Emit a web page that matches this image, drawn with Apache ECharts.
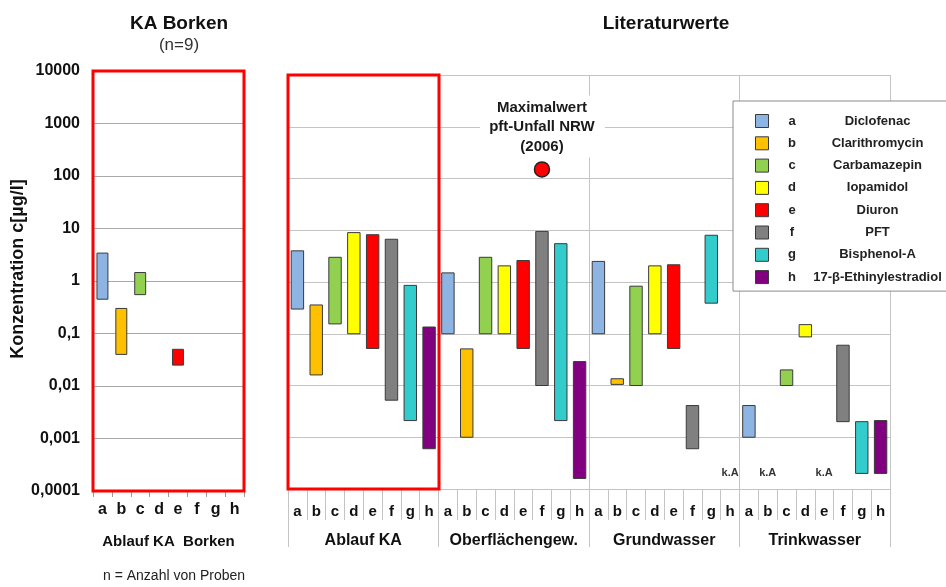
<!DOCTYPE html>
<html>
<head>
<meta charset="utf-8">
<script src="https://cdn.jsdelivr.net/npm/echarts@6/dist/echarts.min.js"></script>
<style>
  html, body { margin: 0; padding: 0; background: #ffffff; }
  #chart { width: 946px; height: 587px; }
</style>
</head>
<body>
<div id="chart"></div>
<script>
// Substances (letter codes a–h) and their colours
const letters = ['a', 'b', 'c', 'd', 'e', 'f', 'g', 'h'];
const substances = ['Diclofenac', 'Clarithromycin', 'Carbamazepin', 'Iopamidol',
  'Diuron', 'PFT', 'Bisphenol-A', '17-β-Ethinylestradiol'];
const colors = ['#8DB4E2', '#FFC000', '#92D050', '#FFFF00',
  '#FF0000', '#808080', '#33CCCC', '#800080'];

// Water compartments of the literature panel
const sections = ['Ablauf KA', 'Oberflächengew.', 'Grundwasser', 'Trinkwasser'];

// KA Borken effluent, concentration range in µg/l (null = not measured)
const borkenLow  = [0.45, 0.04, 0.55, null, 0.025, null, null, null];
const borkenHigh = [3.4, 0.3, 1.45, null, 0.05, null, null, null];

// Literature ranges in µg/l per compartment (null = k.A.)
const ablaufLow   = [0.3, 0.016, 0.155, 0.1, 0.052, 0.0052, 0.0021, 0.0006];
const ablaufHigh  = [4.0, 0.36, 3.0, 9.0, 8.2, 6.7, 0.86, 0.135];
const oberflLow   = [0.1, 0.001, 0.1, 0.1, 0.052, 0.01, 0.0021, 0.00016];
const oberflHigh  = [1.5, 0.051, 3.0, 2.05, 2.6, 9.5, 5.5, 0.029];
const grundLow    = [0.1, 0.0105, 0.01, 0.1, 0.052, 0.0006, 0.39, null];
const grundHigh   = [2.5, 0.0135, 0.83, 2.05, 2.15, 0.0041, 8.0, null];
const trinkLow    = [0.001, null, 0.01, 0.087, null, 0.002, 0.0002, 0.0002];
const trinkHigh   = [0.0041, null, 0.02, 0.15, null, 0.06, 0.002, 0.0021];

const litLow  = [ablaufLow, oberflLow, grundLow, trinkLow];
const litHigh = [ablaufHigh, oberflHigh, grundHigh, trinkHigh];

// Maximum PFT value after the 2006 incident in NRW (surface water, f)
const pftMaxValue = 150;
const pftMaxText = ['Maximalwert', 'pft-Unfall NRW', '(2006)'];

const FONT = '"Liberation Sans", Arial, sans-serif';

function rangeBar(widthRatio) {
  return function (params, api) {
    const x = api.value(0);
    const lo = api.coord([x, api.value(1)]);
    const hi = api.coord([x, api.value(2)]);
    const w = api.size([1, 0])[0] * widthRatio;
    return {
      type: 'rect',
      shape: { x: lo[0] - w / 2, y: hi[1], width: w, height: lo[1] - hi[1] },
      style: { fill: api.visual('color'), stroke: '#3a3a3a', lineWidth: 1 }
    };
  };
}

const series = [];
substances.forEach((name, i) => {
  series.push({
    type: 'custom', name, xAxisIndex: 0, yAxisIndex: 0,
    itemStyle: { color: colors[i] },
    renderItem: rangeBar(0.58),
    encode: { x: 0, y: [1, 2] },
    data: borkenLow[i] != null ? [[i, borkenLow[i], borkenHigh[i]]] : []
  });
  const d = [];
  sections.forEach((s, k) => {
    if (litLow[k][i] != null) d.push([k * letters.length + i, litLow[k][i], litHigh[k][i]]);
  });
  series.push({
    type: 'custom', name, xAxisIndex: 1, yAxisIndex: 1,
    itemStyle: { color: colors[i] },
    renderItem: rangeBar(0.66),
    encode: { x: 0, y: [1, 2] },
    data: d
  });
});

// "k.A" markers where the literature gives no value
const noData = [];
sections.forEach((s, k) => letters.forEach((l, i) => {
  if (litLow[k][i] == null) noData.push([k * letters.length + i, 0.0001]);
}));
series.push({
  type: 'custom', xAxisIndex: 1, yAxisIndex: 1, silent: true,
  renderItem: function (params, api) {
    const p = api.coord([api.value(0), api.value(1)]);
    return {
      type: 'text',
      style: { x: p[0], y: p[1] - 16, text: 'k.A', align: 'center', verticalAlign: 'middle',
        fontSize: 11, fontWeight: 'bold', fontFamily: FONT, fill: '#333' }
    };
  },
  data: noData
});

// PFT maximum: red dot with its caption on a white panel
series.push({
  type: 'custom', xAxisIndex: 1, yAxisIndex: 1, silent: true, z: 5,
  renderItem: function (params, api) {
    const p = api.coord([api.value(0), api.value(1)]);
    const children = [
      { type: 'rect', shape: { x: p[0] - 62, y: p[1] - 74, width: 125, height: 62 },
        style: { fill: '#ffffff' } },
      { type: 'circle', shape: { cx: p[0], cy: p[1], r: 7.5 },
        style: { fill: '#FF0000', stroke: '#222', lineWidth: 1.5 } }
    ];
    pftMaxText.forEach((t, j) => children.push({
      type: 'text',
      style: { x: p[0], y: p[1] - 62 + j * 19.5, text: t, align: 'center', verticalAlign: 'middle',
        fontSize: 15, fontWeight: 'bold', fontFamily: FONT, fill: '#1a1a1a' }
    }));
    return { type: 'group', children };
  },
  data: [[sections.indexOf('Oberflächengew.') * letters.length + letters.indexOf('f'), pftMaxValue]]
});

function logLabel(v) {
  const e = Math.round(Math.log10(v));
  return e >= 0 ? String(Math.pow(10, e)) : '0,' + '0'.repeat(-e - 1) + '1';
}

const chart = echarts.init(document.getElementById('chart'), null, { renderer: 'canvas' });
chart.setOption({
  animation: false,
  backgroundColor: '#ffffff',
  textStyle: { fontFamily: FONT },
  title: [
    { text: 'KA Borken', subtext: '(n=9)', left: 174, textAlign: 'center', top: 9, itemGap: 4,
      textStyle: { fontSize: 19, fontWeight: 'bold', color: '#111', fontFamily: FONT },
      subtextStyle: { fontSize: 17, color: '#333', fontFamily: FONT } },
    { text: 'Literaturwerte', left: 661, textAlign: 'center', top: 9,
      textStyle: { fontSize: 19, fontWeight: 'bold', color: '#111', fontFamily: FONT } }
  ],
  legend: {
    orient: 'vertical', left: 733, top: 101,
    padding: [13, 10, 7, 22], itemGap: 8.3, itemWidth: 13, itemHeight: 13,
    backgroundColor: '#ffffff', borderColor: '#8a8a8a', borderWidth: 1,
    icon: 'rect', selectedMode: false,
    itemStyle: { borderColor: '#3a3a3a', borderWidth: 1 },
    data: substances,
    formatter: name => '{l|' + letters[substances.indexOf(name)] + '}{n|' + name + '}',
    textStyle: {
      fontFamily: FONT, fontSize: 13, fontWeight: 'bold', color: '#222',
      rich: {
        l: { width: 37, align: 'center', fontSize: 13, fontWeight: 'bold', fontFamily: FONT, color: '#222', lineHeight: 14 },
        n: { width: 134, align: 'center', fontSize: 13, fontWeight: 'bold', fontFamily: FONT, color: '#222', lineHeight: 14 }
      }
    }
  },
  grid: [
    { left: 93, top: 71, width: 151, height: 420 },
    { left: 288, top: 75, width: 602, height: 414 }
  ],
  xAxis: [
    { type: 'category', gridIndex: 0, data: letters,
      axisLine: { show: false },
      axisTick: { show: true, length: 6, interval: 0, lineStyle: { color: '#9a9a9a' } },
      axisLabel: { interval: 0, margin: 11, fontSize: 16, fontWeight: 'bold', color: '#111', fontFamily: FONT },
      name: 'Ablauf KA  Borken', nameLocation: 'middle', nameGap: 43,
      nameTextStyle: { fontSize: 15, fontWeight: 'bold', color: '#111', fontFamily: FONT } },
    { type: 'category', gridIndex: 1, data: sections.flatMap(() => letters),
      axisLine: { show: false },
      axisTick: { show: true, length: 31, interval: 0, lineStyle: { color: '#c4c4c4' } },
      axisLabel: { interval: 0, margin: 15, fontSize: 15, fontWeight: 'bold', color: '#111', fontFamily: FONT } },
    { type: 'category', gridIndex: 1, position: 'bottom', offset: 0, data: sections,
      axisLine: { show: false },
      axisTick: { show: true, length: 58, interval: 0, lineStyle: { color: '#c4c4c4' } },
      splitLine: { show: true, interval: 0, lineStyle: { color: '#c4c4c4' } },
      axisLabel: { interval: 0, margin: 44, fontSize: 16, fontWeight: 'bold', color: '#111', fontFamily: FONT } }
  ],
  yAxis: [
    { type: 'log', gridIndex: 0, logBase: 10, min: 0.0001, max: 10000, splitNumber: 8,
      axisLine: { show: false }, axisTick: { show: false },
      splitLine: { show: true, lineStyle: { color: '#a8a8a8' } },
      axisLabel: { formatter: logLabel, margin: 13, fontSize: 16, fontWeight: 'bold', color: '#111', fontFamily: FONT },
      name: 'Konzentration c[µg/l]', nameLocation: 'middle', nameGap: 66, nameRotate: 90,
      nameTextStyle: { fontSize: 18, fontWeight: 'bold', color: '#111', fontFamily: FONT, padding: [0, 0, 0, 24] } },
    { type: 'log', gridIndex: 1, logBase: 10, min: 0.0001, max: 10000, splitNumber: 8,
      axisLine: { show: false }, axisTick: { show: false }, axisLabel: { show: false },
      splitLine: { show: true, lineStyle: { color: '#c4c4c4' } } }
  ],
  graphic: [
    { type: 'rect', shape: { x: 93, y: 71, width: 151, height: 420 }, z: 100,
      style: { fill: 'none', stroke: '#FF0000', lineWidth: 3 } },
    { type: 'rect', shape: { x: 288, y: 75, width: 151, height: 414 }, z: 100,
      style: { fill: 'none', stroke: '#FF0000', lineWidth: 3 } },
    { type: 'text', left: 103, top: 569, z: 100,
      style: { text: 'n = Anzahl von Proben', fontSize: 14, fontFamily: FONT, fill: '#222' } }
  ],
  series
});
</script>
</body>
</html>
